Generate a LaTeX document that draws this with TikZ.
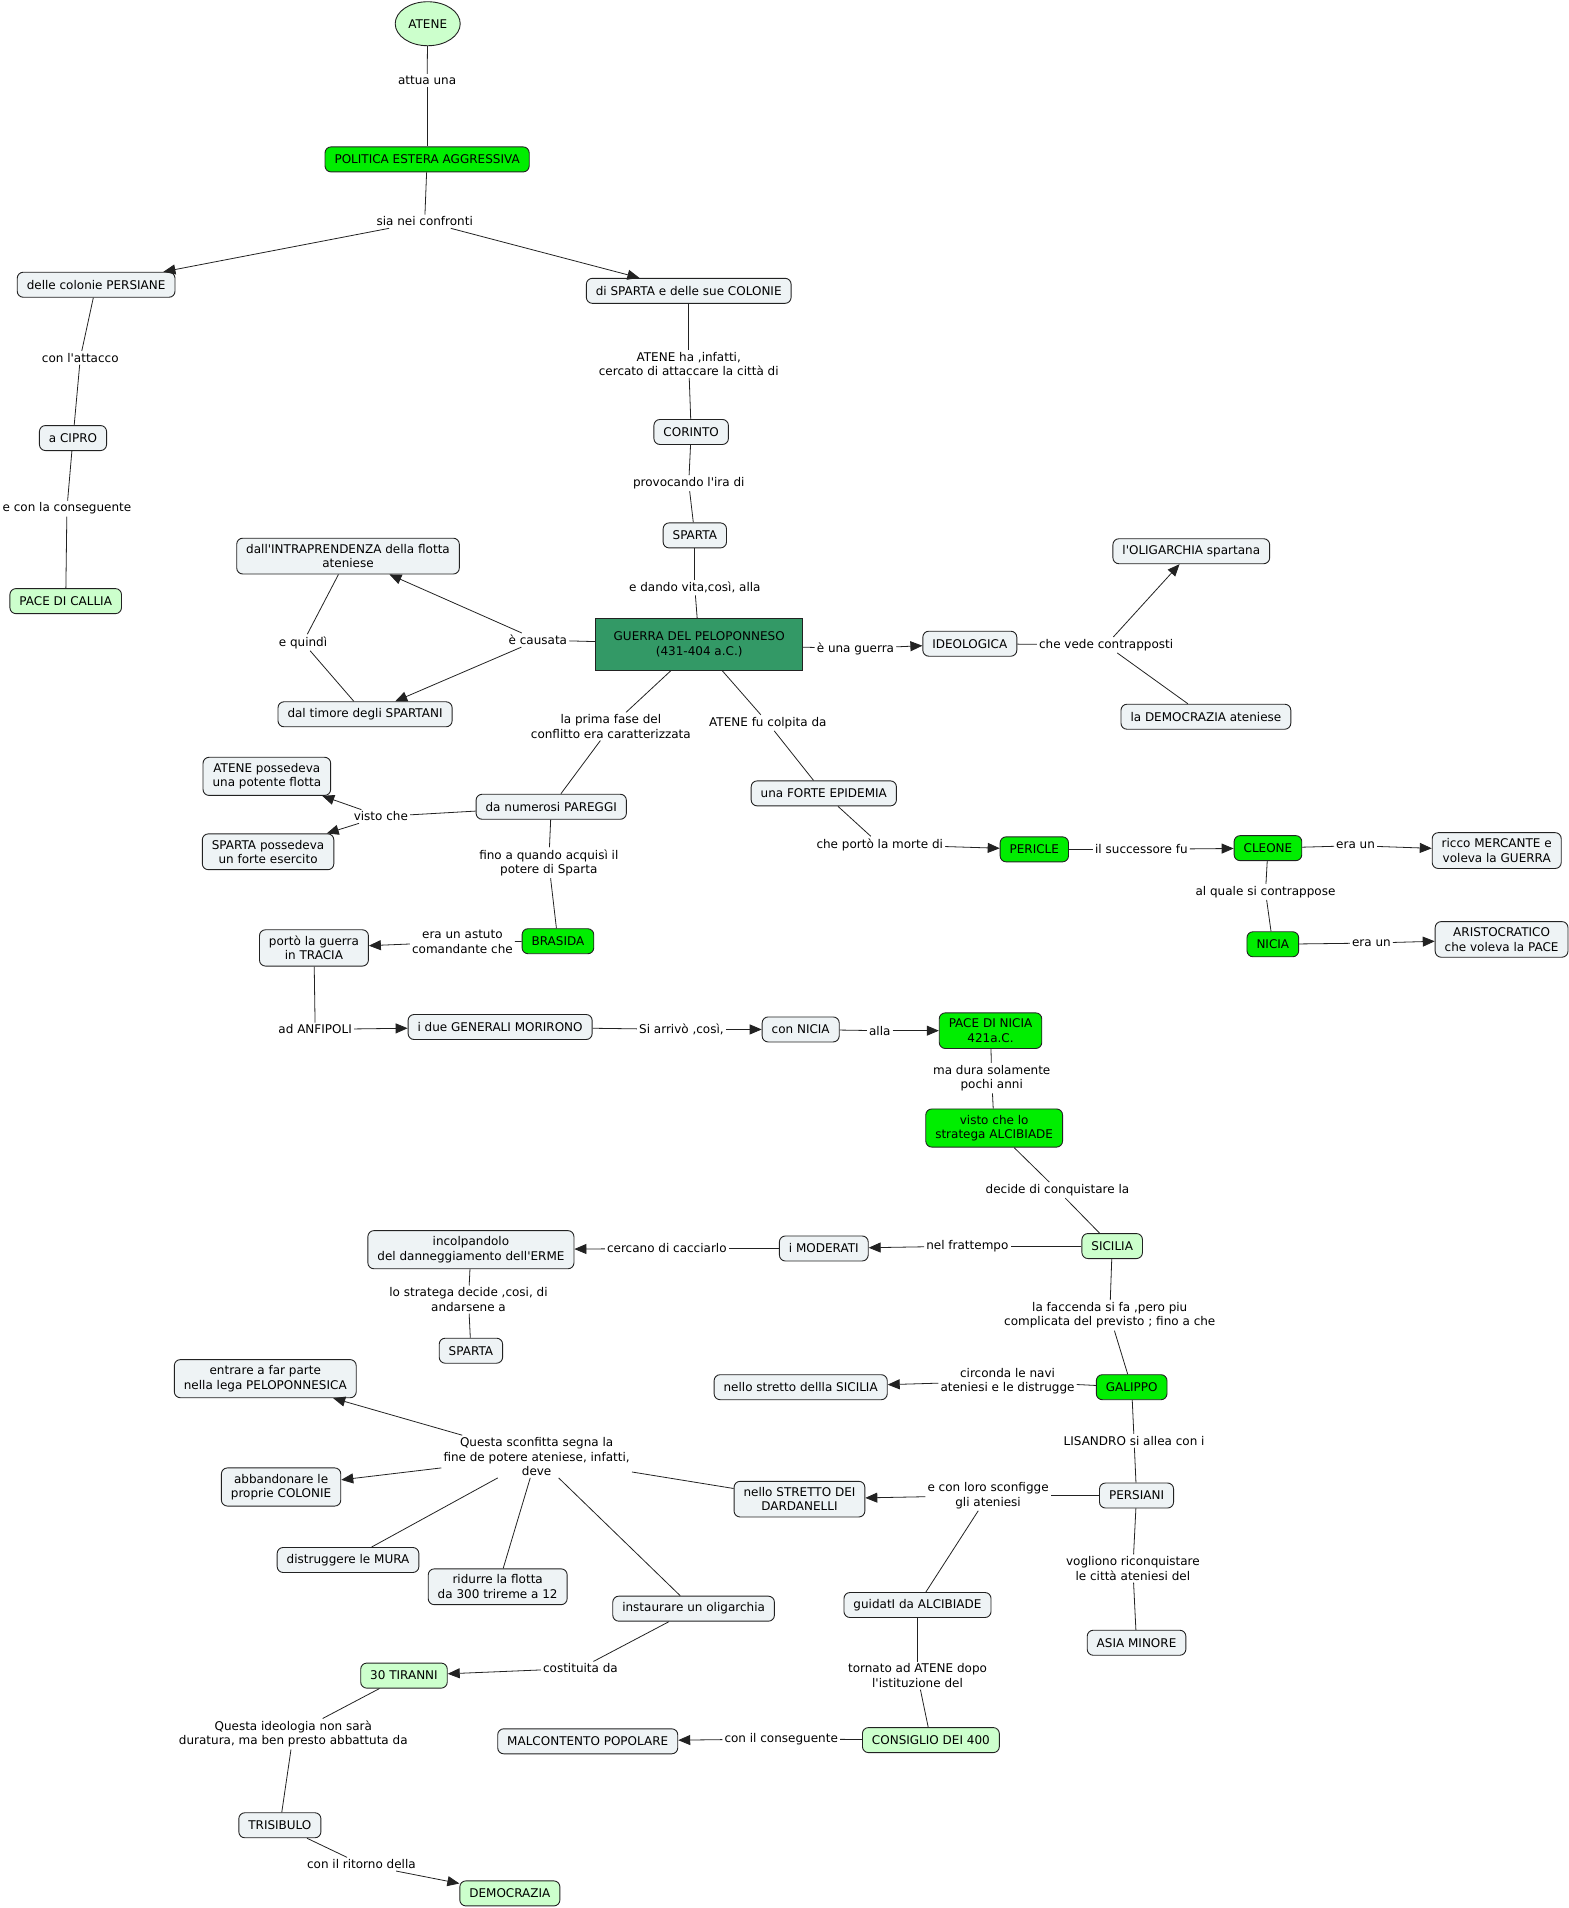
\documentclass[tikz,border=0pt]{standalone}
\usepackage{fontspec}
\setmainfont{DejaVu Sans}
\usetikzlibrary{shapes.geometric, arrows.meta}
\definecolor{cmapfill}{HTML}{EEF3F5}
\definecolor{cmapgreen}{HTML}{00EE00}
\definecolor{cmaplight}{HTML}{CCFFCC}
\definecolor{cmapwar}{HTML}{339966}
\definecolor{cmapline}{HTML}{222222}
\newcommand{\apo}{\textquotesingle}
\tikzset{
  cbox/.style={rectangle, draw=cmapline, fill=cmapfill, line width=0.9pt,
               rounded corners=6pt, align=center, inner xsep=9.5pt, inner ysep=6pt,
               minimum height=25pt, font=\fontsize{12}{14.5}\selectfont},
  gbox/.style={cbox, fill=cmapgreen},
  lbox/.style={cbox, fill=cmaplight},
  warbox/.style={rectangle, draw=cmapline, fill=cmapwar, line width=0.9pt,
                 minimum width=207pt, minimum height=52pt, align=center,
                 font=\fontsize{12}{14.5}\selectfont},
  topnode/.style={ellipse, draw=cmapline, fill=cmaplight, line width=0.9pt,
                  minimum width=65pt, minimum height=44pt, inner sep=0pt,
                  font=\fontsize{12}{14.5}\selectfont},
  lk/.style={align=center, inner sep=2pt, font=\fontsize{12}{14.5}\selectfont},
  ln/.style={draw=cmapline, line width=0.8pt},
  arr/.style={ln, -{Triangle[length=12pt,width=10pt]}},
}
\begin{document}
\begin{tikzpicture}[x=1.2164pt, y=-1.2164pt]
  \useasboundingbox (0,0) rectangle (1289,1568);

  % --- concepts, top part ---
  \node[topnode] (atene)     at (351.5,19.5) {ATENE};
  \node[gbox]    (politica)  at (351,131)  {POLITICA ESTERA AGGRESSIVA};
  \node[cbox]    (persiane)  at (79,234)   {delle colonie PERSIANE};
  \node[cbox]    (spartacol) at (566,239)  {di SPARTA e delle sue COLONIE};
  \node[cbox]    (cipro)     at (60,360)   {a CIPRO};
  \node[lbox]    (callia)    at (54,494)   {PACE DI CALLIA};
  \node[cbox]    (corinto)   at (568,355)  {CORINTO};
  \node[cbox]    (sparta)    at (571,440)  {SPARTA};
  \node[warbox]  (guerra)    at (574.6,529.5) {GUERRA DEL PELOPONNESO\\(431-404 a.C.)};
  \node[cbox]    (intrapr)   at (286,457)  {dall\apo INTRAPRENDENZA della flotta\\ateniese};
  \node[cbox]    (timore)    at (300,587)  {dal timore degli SPARTANI};
  \node[cbox]    (ideologica) at (797,529) {IDEOLOGICA};
  \node[cbox]    (oligarchia) at (979,453) {l\apo OLIGARCHIA spartana};
  \node[cbox]    (demoat)    at (991,589)  {la DEMOCRAZIA ateniese};

  % --- concepts, middle part ---
  \node[cbox]    (pareggi)   at (453,663)  {da numerosi PAREGGI};
  \node[cbox]    (flotta)    at (219.3,638) {ATENE possedeva\\una potente flotta};
  \node[cbox]    (esercito)  at (220.3,700) {SPARTA possedeva\\un forte esercito};
  \node[cbox]    (epidemia)  at (677,652)  {una FORTE EPIDEMIA};
  \node[gbox]    (pericle)   at (850,698)  {PERICLE};
  \node[gbox]    (cleone)    at (1042,697) {CLEONE};
  \node[cbox]    (mercante)  at (1230,699) {ricco MERCANTE e\\voleva la GUERRA};
  \node[gbox]    (nicia)     at (1046,776) {NICIA};
  \node[cbox]    (aristo)    at (1234,772) {ARISTOCRATICO\\che voleva la PACE};
  \node[gbox]    (brasida)   at (458.5,773.5) {BRASIDA};
  \node[cbox]    (tracia)    at (258,779)  {portò la guerra\\in TRACIA};
  \node[cbox]    (generali)  at (411,844)  {i due GENERALI MORIRONO};
  \node[cbox]    (connicia)  at (658,846)  {con NICIA};
  \node[gbox]    (pacenicia) at (814,847)  {PACE DI NICIA\\421a.C.};
  \node[gbox]    (alcibiade) at (817,927)  {visto che lo\\stratega ALCIBIADE};
  \node[lbox]    (sicilia)   at (914,1024) {SICILIA};
  \node[cbox]    (moderati)  at (677,1026) {i MODERATI};
  \node[cbox]    (erme)      at (387,1027) {incolpandolo\\del danneggiamento dell\apo ERME};
  \node[cbox]    (sparta2)   at (387,1110) {SPARTA};

  % --- concepts, bottom part ---
  \node[gbox]    (galippo)   at (930,1140) {GALIPPO};
  \node[cbox]    (strettosic) at (658,1140) {nello stretto dellla SICILIA};
  \node[cbox]    (persiani)  at (934,1229) {PERSIANI};
  \node[cbox]    (dardanelli) at (657,1232) {nello STRETTO DEI\\DARDANELLI};
  \node[cbox]    (lega)      at (218,1133) {entrare a far parte\\nella lega PELOPONNESICA};
  \node[cbox]    (colonie)   at (231,1222) {abbandonare le\\proprie COLONIE};
  \node[cbox]    (mura)      at (286,1282) {distruggere le MURA};
  \node[cbox]    (flotta2)   at (409,1304) {ridurre la flotta\\da 300 trireme a 12};
  \node[cbox]    (oligarchia2) at (570,1322) {instaurare un oligarchia};
  \node[cbox]    (guidati)   at (754,1319) {guidatI da ALCIBIADE};
  \node[cbox]    (asia)      at (934,1350) {ASIA MINORE};
  \node[lbox]    (tiranni)   at (332,1377) {30 TIRANNI};
  \node[lbox]    (consiglio) at (765,1430) {CONSIGLIO DEI 400};
  \node[cbox]    (malcontento) at (483,1431) {MALCONTENTO POPOLARE};
  \node[cbox]    (trisibulo) at (230,1500) {TRISIBULO};
  \node[lbox]    (democrazia) at (419,1556) {DEMOCRAZIA};

  % --- linking phrases ---
  \node[lk] (attua)      at (351,66)   {attua una};
  \node[lk] (sia)        at (349,182)  {sia nei confronti};
  \node[lk] (attacco)    at (66,294)   {con l\apo attacco};
  \node[lk] (conseg)     at (55,418)   {e con la conseguente};
  \node[lk] (infatti)    at (566,299)  {ATENE ha ,infatti,\\cercato di attaccare la città di};
  \node[lk] (ira)        at (566,397)  {provocando l\apo ira di};
  \node[lk] (vita)       at (571,483)  {e dando vita,così, alla};
  \node[lk] (causata)    at (442,526)  {è causata};
  \node[lk] (quindi)     at (249,528)  {e quindì};
  \node[lk] (unaguerra)  at (703,533)  {è una guerra};
  \node[lk] (vede)       at (909,530)  {che vede contrapposti};
  \node[lk] (fase)       at (502,597)  {la prima fase del\\conflitto era caratterizzata};
  \node[lk] (colpita)    at (631,594)  {ATENE fu colpita da};
  \node[lk] (vistoche)   at (313,671)  {visto che};
  \node[lk] (fino)       at (451,709)  {fino a quando acquisì il\\potere di Sparta};
  \node[lk] (morte)      at (723,694)  {che portò la morte di};
  \node[lk] (successore) at (938,698)  {il successore fu};
  \node[lk] (eraun)      at (1114,695) {era un};
  \node[lk] (contrap)    at (1040,733) {al quale si contrappose};
  \node[lk] (eraunb)     at (1127,775) {era un};
  \node[lk] (astuto)     at (380,774)  {era un astuto\\comandante che};
  \node[lk] (anfipoli)   at (259,846)  {ad ANFIPOLI};
  \node[lk] (arrivo)     at (560,846)  {Si arrivò ,così,};
  \node[lk] (alla)       at (723,847)  {alla};
  \node[lk] (dura)       at (815,886)  {ma dura solamente\\pochi anni};
  \node[lk] (conquista)  at (869,978)  {decide di conquistare la};
  \node[lk] (frattempo)  at (795,1024) {nel frattempo};
  \node[lk] (cacciarlo)  at (548,1026) {cercano di cacciarlo};
  \node[lk] (andarsene)  at (385,1068) {lo stratega decide ,cosi, di\\andarsene a};
  \node[lk] (faccenda)   at (912,1081) {la faccenda si fa ,pero piu\\complicata del previsto ; fino a che};
  \node[lk] (circonda)   at (828,1135) {circonda le navi\\ateniesi e le distrugge};
  \node[lk] (lisandro)   at (932,1184) {LISANDRO si allea con i};
  \node[lk] (sconfigge)  at (812,1229) {e con loro sconfigge\\gli ateniesi};
  \node[lk] (sconfitta)  at (441,1197) {Questa sconfitta segna la\\fine de potere ateniese, infatti,\\deve};
  \node[lk] (vogliono)   at (931,1289) {vogliono riconquistare\\le città ateniesi del};
  \node[lk] (costituita) at (477,1371) {costituita da};
  \node[lk] (tornato)    at (754,1377) {tornato ad ATENE dopo\\l\apo istituzione del};
  \node[lk] (conseguente) at (642,1429) {con il conseguente};
  \node[lk] (ideologia)  at (241,1425) {Questa ideologia non sarà\\duratura, ma ben presto abbattuta da};
  \node[lk] (ritorno)    at (297,1532) {con il ritorno della};

  % --- plain connectors ---
  \draw[ln] (atene) -- (attua);   \draw[ln] (attua) -- (politica);
  \draw[ln] (politica) -- (sia);
  \draw[ln] (persiane) -- (attacco); \draw[ln] (attacco) -- (cipro);
  \draw[ln] (cipro) -- (conseg);  \draw[ln] (conseg) -- (callia);
  \draw[ln] (spartacol) -- (infatti); \draw[ln] (infatti) -- (corinto);
  \draw[ln] (corinto) -- (ira);   \draw[ln] (ira) -- (sparta);
  \draw[ln] (sparta) -- (vita);   \draw[ln] (vita) -- (guerra);
  \draw[ln] (guerra) -- (causata);
  \draw[ln] (intrapr) -- (quindi); \draw[ln] (quindi) -- (timore);
  \draw[ln] (guerra) -- (unaguerra);
  \draw[ln] (ideologica) -- (vede); \draw[ln] (vede) -- (demoat);
  \draw[ln] (guerra) -- (fase);   \draw[ln] (fase) -- (pareggi);
  \draw[ln] (guerra) -- (colpita); \draw[ln] (colpita) -- (epidemia);
  \draw[ln] (pareggi) -- (vistoche);
  \draw[ln] (pareggi) -- (fino);  \draw[ln] (fino) -- (brasida);
  \draw[ln] (brasida) -- (astuto);
  \draw[ln] (tracia) -- (anfipoli);
  \draw[ln] (generali) -- (arrivo);
  \draw[ln] (connicia) -- (alla);
  \draw[ln] (pacenicia) -- (dura); \draw[ln] (dura) -- (alcibiade);
  \draw[ln] (alcibiade) -- (conquista); \draw[ln] (conquista) -- (sicilia);
  \draw[ln] (sicilia) -- (frattempo);
  \draw[ln] (moderati) -- (cacciarlo);
  \draw[ln] (erme) -- (andarsene); \draw[ln] (andarsene) -- (sparta2);
  \draw[ln] (sicilia) -- (faccenda); \draw[ln] (faccenda) -- (galippo);
  \draw[ln] (galippo) -- (circonda);
  \draw[ln] (galippo) -- (lisandro); \draw[ln] (lisandro) -- (persiani);
  \draw[ln] (persiani) -- (sconfigge); \draw[ln] (sconfigge) -- (guidati);
  \draw[ln] (persiani) -- (vogliono); \draw[ln] (vogliono) -- (asia);
  \draw[ln] (dardanelli) -- (sconfitta);
  \draw[ln] (sconfitta) -- (mura); \draw[ln] (sconfitta) -- (flotta2);
  \draw[ln] (sconfitta) -- (oligarchia2);
  \draw[ln] (oligarchia2) -- (costituita);
  \draw[ln] (tiranni) -- (ideologia); \draw[ln] (ideologia) -- (trisibulo);
  \draw[ln] (trisibulo) -- (ritorno);
  \draw[ln] (guidati) -- (tornato); \draw[ln] (tornato) -- (consiglio);
  \draw[ln] (consiglio) -- (conseguente);
  \draw[ln] (epidemia) -- (morte);
  \draw[ln] (pericle) -- (successore);
  \draw[ln] (cleone) -- (eraun);
  \draw[ln] (cleone) -- (contrap); \draw[ln] (contrap) -- (nicia);
  \draw[ln] (nicia) -- (eraunb);

  % --- arrows ---
  \draw[arr] (sia) -- (persiane);   \draw[arr] (sia) -- (spartacol);
  \draw[arr] (causata) -- (intrapr); \draw[arr] (causata) -- (timore);
  \draw[arr] (unaguerra) -- (ideologica);
  \draw[arr] (vede) -- (oligarchia);
  \draw[arr] (vistoche) -- (flotta); \draw[arr] (vistoche) -- (esercito);
  \draw[arr] (astuto) -- (tracia);
  \draw[arr] (anfipoli) -- (generali);
  \draw[arr] (arrivo) -- (connicia);
  \draw[arr] (alla) -- (pacenicia);
  \draw[arr] (frattempo) -- (moderati);
  \draw[arr] (cacciarlo) -- (erme);
  \draw[arr] (circonda) -- (strettosic);
  \draw[arr] (sconfigge) -- (dardanelli);
  \draw[arr] (sconfitta) -- (lega);  \draw[arr] (sconfitta) -- (colonie);
  \draw[arr] (costituita) -- (tiranni);
  \draw[arr] (ritorno) -- (democrazia);
  \draw[arr] (conseguente) -- (malcontento);
  \draw[arr] (morte) -- (pericle);
  \draw[arr] (successore) -- (cleone);
  \draw[arr] (eraun) -- (mercante);
  \draw[arr] (eraunb) -- (aristo);
\end{tikzpicture}
\end{document}
